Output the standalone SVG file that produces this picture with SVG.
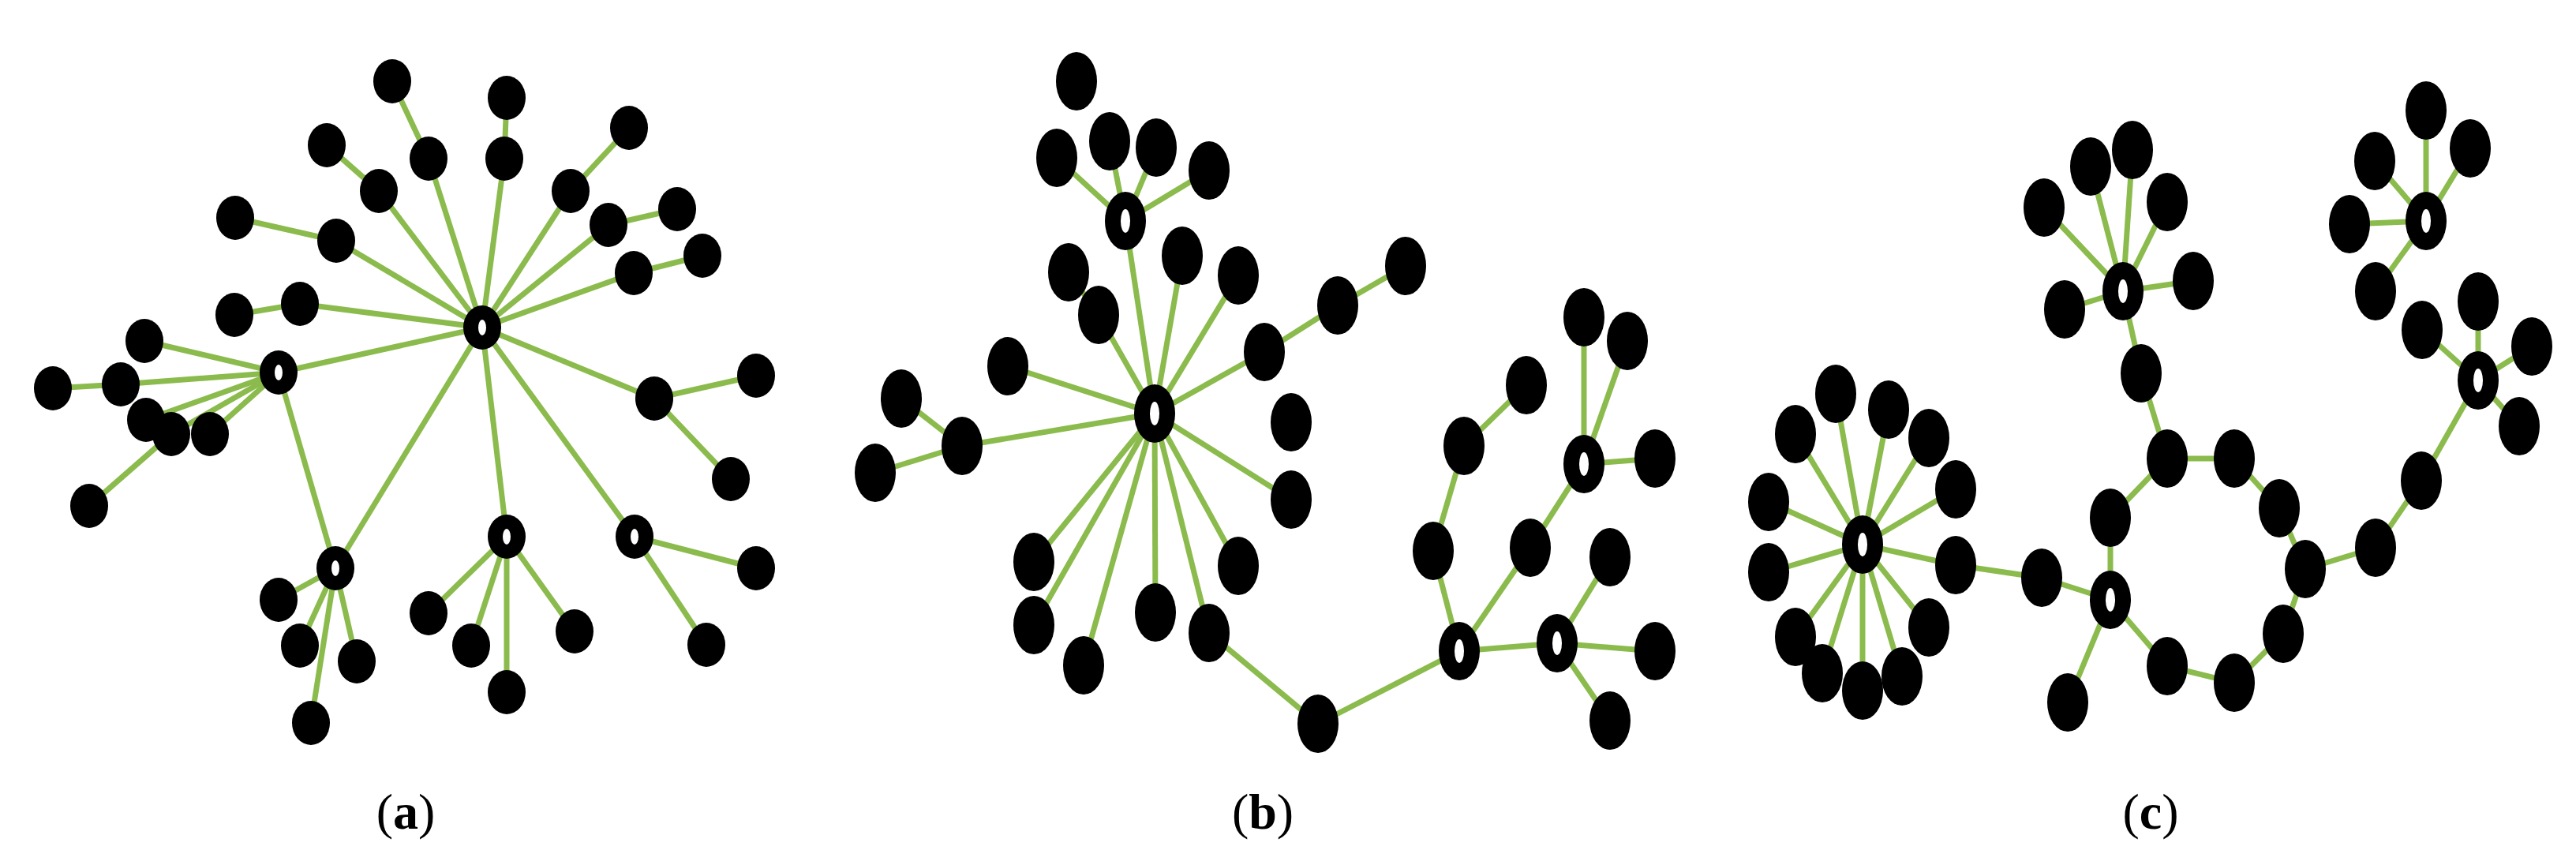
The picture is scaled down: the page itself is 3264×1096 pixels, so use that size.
<svg xmlns="http://www.w3.org/2000/svg" width="3264" height="1096" viewBox="0 0 3264 1096">
<style>
.e line{stroke:#8bbb4d;stroke-width:7;stroke-linecap:butt}
.a ellipse{rx:24px;ry:28px;fill:#000}
.b ellipse{rx:26px;ry:37px;fill:#000}
.a ellipse.o{rx:5px;ry:10px;fill:#fff}
.b ellipse.o{rx:6px;ry:15px;fill:#fff}
text{font-family:"Liberation Serif",serif;font-size:64px;fill:#000}
</style>
<rect width="3264" height="1096" fill="#fff"/>
<g class="e" id="edges-a">
<line x1="497" y1="103" x2="543" y2="201"/><line x1="543" y1="201" x2="611" y2="415"/>
<line x1="642" y1="124" x2="639" y2="201"/><line x1="639" y1="201" x2="611" y2="415"/>
<line x1="414" y1="184" x2="480" y2="242"/><line x1="480" y1="242" x2="611" y2="415"/>
<line x1="797" y1="162" x2="723" y2="242"/><line x1="723" y1="242" x2="611" y2="415"/>
<line x1="858" y1="265" x2="771" y2="285"/><line x1="771" y1="285" x2="611" y2="415"/>
<line x1="890" y1="324" x2="803" y2="346"/><line x1="803" y1="346" x2="611" y2="415"/>
<line x1="298" y1="276" x2="426" y2="305"/><line x1="426" y1="305" x2="611" y2="415"/>
<line x1="297" y1="399" x2="380" y2="385"/><line x1="380" y1="385" x2="611" y2="415"/>
<line x1="611" y1="415" x2="353" y2="472"/>
<line x1="611" y1="415" x2="829" y2="505"/><line x1="829" y1="505" x2="958" y2="476"/><line x1="829" y1="505" x2="926" y2="607"/>
<line x1="611" y1="415" x2="642" y2="680"/><line x1="611" y1="415" x2="804" y2="680"/><line x1="611" y1="415" x2="425" y2="720"/>
<line x1="804" y1="680" x2="958" y2="720"/><line x1="804" y1="680" x2="895" y2="817"/>
<line x1="642" y1="680" x2="543" y2="777"/><line x1="642" y1="680" x2="597" y2="818"/><line x1="642" y1="680" x2="642" y2="877"/><line x1="642" y1="680" x2="728" y2="800"/>
<line x1="425" y1="720" x2="353" y2="760"/><line x1="425" y1="720" x2="380" y2="818"/><line x1="425" y1="720" x2="452" y2="838"/><line x1="425" y1="720" x2="394" y2="916"/>
<line x1="353" y1="472" x2="425" y2="720"/>
<line x1="353" y1="472" x2="183" y2="432"/><line x1="353" y1="472" x2="153" y2="487"/><line x1="353" y1="472" x2="185" y2="532"/><line x1="353" y1="472" x2="217" y2="550"/><line x1="353" y1="472" x2="266" y2="550"/>
<line x1="67" y1="492" x2="153" y2="487"/><line x1="113" y1="641" x2="217" y2="550"/>
</g>
<g class="e" id="edges-b">
<line x1="1426" y1="280" x2="1339" y2="200"/><line x1="1426" y1="280" x2="1406" y2="179"/><line x1="1426" y1="280" x2="1465" y2="187"/><line x1="1426" y1="280" x2="1532" y2="216"/>
<line x1="1426" y1="280" x2="1463" y2="524"/>
<line x1="1354" y1="345" x2="1392" y2="399"/><line x1="1392" y1="399" x2="1463" y2="524"/>
<line x1="1498" y1="324" x2="1463" y2="524"/><line x1="1569" y1="349" x2="1463" y2="524"/>
<line x1="1602" y1="446" x2="1463" y2="524"/><line x1="1602" y1="446" x2="1695" y2="387"/><line x1="1695" y1="387" x2="1781" y2="337"/>
<line x1="1277" y1="464" x2="1463" y2="524"/>
<line x1="1219" y1="565" x2="1463" y2="524"/><line x1="1219" y1="565" x2="1142" y2="505"/><line x1="1219" y1="565" x2="1109" y2="599"/>
<line x1="1636" y1="633" x2="1463" y2="524"/><line x1="1569" y1="717" x2="1463" y2="524"/>
<line x1="1310" y1="712" x2="1463" y2="524"/><line x1="1310" y1="792" x2="1463" y2="524"/><line x1="1373" y1="843" x2="1463" y2="524"/><line x1="1464" y1="776" x2="1463" y2="524"/><line x1="1532" y1="802" x2="1463" y2="524"/>
<line x1="1532" y1="802" x2="1670" y2="917"/><line x1="1670" y1="917" x2="1849" y2="825"/>
<line x1="1849" y1="825" x2="1816" y2="698"/><line x1="1816" y1="698" x2="1855" y2="565"/><line x1="1855" y1="565" x2="1934" y2="488"/>
<line x1="1849" y1="825" x2="1939" y2="694"/><line x1="1939" y1="694" x2="2007" y2="588"/>
<line x1="2007" y1="588" x2="2007" y2="402"/><line x1="2007" y1="588" x2="2062" y2="432"/><line x1="2007" y1="588" x2="2097" y2="581"/>
<line x1="1849" y1="825" x2="1973" y2="815"/>
<line x1="1973" y1="815" x2="2040" y2="706"/><line x1="1973" y1="815" x2="2097" y2="825"/><line x1="1973" y1="815" x2="2040" y2="913"/>
</g>
<g class="e" id="edges-c">
<line x1="2360" y1="690" x2="2326" y2="499"/><line x1="2360" y1="690" x2="2393" y2="519"/><line x1="2360" y1="690" x2="2275" y2="550"/><line x1="2360" y1="690" x2="2444" y2="555"/><line x1="2360" y1="690" x2="2478" y2="620"/><line x1="2360" y1="690" x2="2241" y2="636"/><line x1="2360" y1="690" x2="2241" y2="725"/><line x1="2360" y1="690" x2="2478" y2="716"/><line x1="2360" y1="690" x2="2275" y2="807"/><line x1="2360" y1="690" x2="2444" y2="795"/><line x1="2360" y1="690" x2="2309" y2="853"/><line x1="2360" y1="690" x2="2360" y2="875"/><line x1="2360" y1="690" x2="2410" y2="857"/>
<line x1="2478" y1="716" x2="2587" y2="732"/><line x1="2587" y1="732" x2="2674" y2="760"/>
<line x1="2674" y1="760" x2="2674" y2="656"/><line x1="2674" y1="656" x2="2746" y2="581"/><line x1="2746" y1="581" x2="2713" y2="473"/><line x1="2713" y1="473" x2="2690" y2="369"/>
<line x1="2746" y1="581" x2="2831" y2="581"/><line x1="2831" y1="581" x2="2888" y2="644"/><line x1="2888" y1="644" x2="2921" y2="721"/><line x1="2921" y1="721" x2="2893" y2="803"/><line x1="2893" y1="803" x2="2831" y2="865"/><line x1="2831" y1="865" x2="2746" y2="844"/><line x1="2746" y1="844" x2="2674" y2="760"/>
<line x1="2674" y1="760" x2="2620" y2="890"/>
<line x1="2921" y1="721" x2="3010" y2="694"/><line x1="3010" y1="694" x2="3068" y2="609"/><line x1="3068" y1="609" x2="3140" y2="482"/>
<line x1="3140" y1="482" x2="3069" y2="418"/><line x1="3140" y1="482" x2="3140" y2="382"/><line x1="3140" y1="482" x2="3208" y2="439"/><line x1="3140" y1="482" x2="3192" y2="540"/>
<line x1="3074" y1="280" x2="3074" y2="140"/><line x1="3074" y1="280" x2="3009" y2="204"/><line x1="3074" y1="280" x2="3130" y2="188"/><line x1="3074" y1="280" x2="2977" y2="284"/><line x1="3074" y1="280" x2="3010" y2="369"/>
<line x1="2690" y1="369" x2="2590" y2="263"/><line x1="2690" y1="369" x2="2649" y2="211"/><line x1="2690" y1="369" x2="2702" y2="190"/><line x1="2690" y1="369" x2="2746" y2="256"/><line x1="2690" y1="369" x2="2779" y2="356"/><line x1="2690" y1="369" x2="2616" y2="392"/>
</g>
<g class="a">
<g id="a-h1"><ellipse cx="611" cy="415"/><ellipse class="o" cx="611" cy="415"/></g>
<g id="a-h2"><ellipse cx="353" cy="472"/><ellipse class="o" cx="353" cy="472"/></g>
<g id="a-h3"><ellipse cx="425" cy="720"/><ellipse class="o" cx="425" cy="720"/></g>
<g id="a-h4"><ellipse cx="642" cy="680"/><ellipse class="o" cx="642" cy="680"/></g>
<g id="a-h5"><ellipse cx="804" cy="680"/><ellipse class="o" cx="804" cy="680"/></g>
<g id="a1"><ellipse cx="497" cy="103"/></g><g id="a2"><ellipse cx="543" cy="201"/></g>
<g id="a3"><ellipse cx="642" cy="124"/></g><g id="a4"><ellipse cx="639" cy="201"/></g>
<g id="a5"><ellipse cx="414" cy="184"/></g><g id="a6"><ellipse cx="480" cy="242"/></g>
<g id="a7"><ellipse cx="797" cy="162"/></g><g id="a8"><ellipse cx="723" cy="242"/></g>
<g id="a9"><ellipse cx="858" cy="265"/></g><g id="a10"><ellipse cx="771" cy="285"/></g>
<g id="a11"><ellipse cx="890" cy="324"/></g><g id="a12"><ellipse cx="803" cy="346"/></g>
<g id="a13"><ellipse cx="298" cy="276"/></g><g id="a14"><ellipse cx="426" cy="305"/></g>
<g id="a15"><ellipse cx="297" cy="399"/></g><g id="a16"><ellipse cx="380" cy="385"/></g>
<g id="a17"><ellipse cx="829" cy="505"/></g><g id="a18"><ellipse cx="958" cy="476"/></g><g id="a19"><ellipse cx="926" cy="607"/></g>
<g id="a20"><ellipse cx="958" cy="720"/></g><g id="a21"><ellipse cx="895" cy="817"/></g>
<g id="a22"><ellipse cx="543" cy="777"/></g><g id="a23"><ellipse cx="597" cy="818"/></g><g id="a24"><ellipse cx="642" cy="877"/></g><g id="a25"><ellipse cx="728" cy="800"/></g>
<g id="a26"><ellipse cx="353" cy="760"/></g><g id="a27"><ellipse cx="380" cy="818"/></g><g id="a28"><ellipse cx="452" cy="838"/></g><g id="a29"><ellipse cx="394" cy="916"/></g>
<g id="a30"><ellipse cx="183" cy="432"/></g><g id="a31"><ellipse cx="153" cy="487"/></g><g id="a32"><ellipse cx="67" cy="492"/></g>
<g id="a33"><ellipse cx="185" cy="532"/></g><g id="a34"><ellipse cx="217" cy="550"/></g><g id="a35"><ellipse cx="266" cy="550"/></g><g id="a36"><ellipse cx="113" cy="641"/></g>
</g>
<g class="b">
<g id="b-h1"><ellipse cx="1463" cy="524"/><ellipse class="o" cx="1463" cy="524"/></g>
<g id="b-h2"><ellipse cx="1426" cy="280"/><ellipse class="o" cx="1426" cy="280"/></g>
<g id="b-h3"><ellipse cx="1849" cy="825"/><ellipse class="o" cx="1849" cy="825"/></g>
<g id="b-h4"><ellipse cx="1973" cy="815"/><ellipse class="o" cx="1973" cy="815"/></g>
<g id="b-h5"><ellipse cx="2007" cy="588"/><ellipse class="o" cx="2007" cy="588"/></g>
<g id="b1"><ellipse cx="1339" cy="200"/></g><g id="b2"><ellipse cx="1406" cy="179"/></g><g id="b3"><ellipse cx="1465" cy="187"/></g><g id="b4"><ellipse cx="1532" cy="216"/></g><g id="b5"><ellipse cx="1364" cy="103"/></g>
<g id="b6"><ellipse cx="1354" cy="345"/></g><g id="b7"><ellipse cx="1392" cy="399"/></g><g id="b8"><ellipse cx="1498" cy="324"/></g><g id="b9"><ellipse cx="1569" cy="349"/></g>
<g id="b10"><ellipse cx="1602" cy="446"/></g><g id="b11"><ellipse cx="1695" cy="387"/></g><g id="b12"><ellipse cx="1781" cy="337"/></g>
<g id="b13"><ellipse cx="1277" cy="464"/></g><g id="b14"><ellipse cx="1219" cy="565"/></g><g id="b15"><ellipse cx="1142" cy="505"/></g><g id="b16"><ellipse cx="1109" cy="599"/></g>
<g id="b17"><ellipse cx="1636" cy="535"/></g><g id="b18"><ellipse cx="1636" cy="633"/></g><g id="b19"><ellipse cx="1569" cy="717"/></g>
<g id="b20"><ellipse cx="1310" cy="712"/></g><g id="b21"><ellipse cx="1310" cy="792"/></g><g id="b22"><ellipse cx="1373" cy="843"/></g><g id="b23"><ellipse cx="1464" cy="776"/></g><g id="b24"><ellipse cx="1532" cy="802"/></g>
<g id="b25"><ellipse cx="1670" cy="917"/></g><g id="b26"><ellipse cx="1816" cy="698"/></g><g id="b27"><ellipse cx="1855" cy="565"/></g><g id="b28"><ellipse cx="1934" cy="488"/></g>
<g id="b29"><ellipse cx="1939" cy="694"/></g><g id="b30"><ellipse cx="2007" cy="402"/></g><g id="b31"><ellipse cx="2062" cy="432"/></g><g id="b32"><ellipse cx="2097" cy="581"/></g>
<g id="b33"><ellipse cx="2040" cy="706"/></g><g id="b34"><ellipse cx="2097" cy="825"/></g><g id="b35"><ellipse cx="2040" cy="913"/></g>
</g>
<g class="b">
<g id="c-h1"><ellipse cx="2360" cy="690"/><ellipse class="o" cx="2360" cy="690"/></g>
<g id="c-h2"><ellipse cx="2690" cy="369"/><ellipse class="o" cx="2690" cy="369"/></g>
<g id="c-h3"><ellipse cx="2674" cy="760"/><ellipse class="o" cx="2674" cy="760"/></g>
<g id="c-h4"><ellipse cx="3074" cy="280"/><ellipse class="o" cx="3074" cy="280"/></g>
<g id="c-h5"><ellipse cx="3140" cy="482"/><ellipse class="o" cx="3140" cy="482"/></g>
<g id="c1"><ellipse cx="2326" cy="499"/></g><g id="c2"><ellipse cx="2393" cy="519"/></g><g id="c3"><ellipse cx="2275" cy="550"/></g><g id="c4"><ellipse cx="2444" cy="555"/></g><g id="c5"><ellipse cx="2478" cy="620"/></g><g id="c6"><ellipse cx="2241" cy="636"/></g><g id="c7"><ellipse cx="2241" cy="725"/></g><g id="c8"><ellipse cx="2478" cy="716"/></g><g id="c9"><ellipse cx="2275" cy="807"/></g><g id="c10"><ellipse cx="2444" cy="795"/></g><g id="c11"><ellipse cx="2309" cy="853"/></g><g id="c12"><ellipse cx="2360" cy="875"/></g><g id="c13"><ellipse cx="2410" cy="857"/></g>
<g id="c14"><ellipse cx="2587" cy="732"/></g><g id="c15"><ellipse cx="2674" cy="656"/></g><g id="c16"><ellipse cx="2746" cy="581"/></g><g id="c17"><ellipse cx="2713" cy="473"/></g>
<g id="c18"><ellipse cx="2831" cy="581"/></g><g id="c19"><ellipse cx="2888" cy="644"/></g><g id="c20"><ellipse cx="2921" cy="721"/></g><g id="c21"><ellipse cx="2893" cy="803"/></g><g id="c22"><ellipse cx="2831" cy="865"/></g><g id="c23"><ellipse cx="2746" cy="844"/></g><g id="c24"><ellipse cx="2620" cy="890"/></g>
<g id="c25"><ellipse cx="3010" cy="694"/></g><g id="c26"><ellipse cx="3068" cy="609"/></g>
<g id="c27"><ellipse cx="3069" cy="418"/></g><g id="c28"><ellipse cx="3140" cy="382"/></g><g id="c29"><ellipse cx="3208" cy="439"/></g><g id="c30"><ellipse cx="3192" cy="540"/></g>
<g id="c31"><ellipse cx="3074" cy="140"/></g><g id="c32"><ellipse cx="3009" cy="204"/></g><g id="c33"><ellipse cx="3130" cy="188"/></g><g id="c34"><ellipse cx="2977" cy="284"/></g><g id="c35"><ellipse cx="3010" cy="369"/></g>
<g id="c36"><ellipse cx="2590" cy="263"/></g><g id="c37"><ellipse cx="2649" cy="211"/></g><g id="c38"><ellipse cx="2702" cy="190"/></g><g id="c39"><ellipse cx="2746" cy="256"/></g><g id="c40"><ellipse cx="2779" cy="356"/></g><g id="c41"><ellipse cx="2616" cy="392"/></g>
</g>
<text x="514" y="1050" text-anchor="middle">(<tspan font-weight="bold">a</tspan>)</text>
<text x="1600" y="1050" text-anchor="middle">(<tspan font-weight="bold">b</tspan>)</text>
<text x="2725" y="1050" text-anchor="middle">(<tspan font-weight="bold">c</tspan>)</text>
</svg>
